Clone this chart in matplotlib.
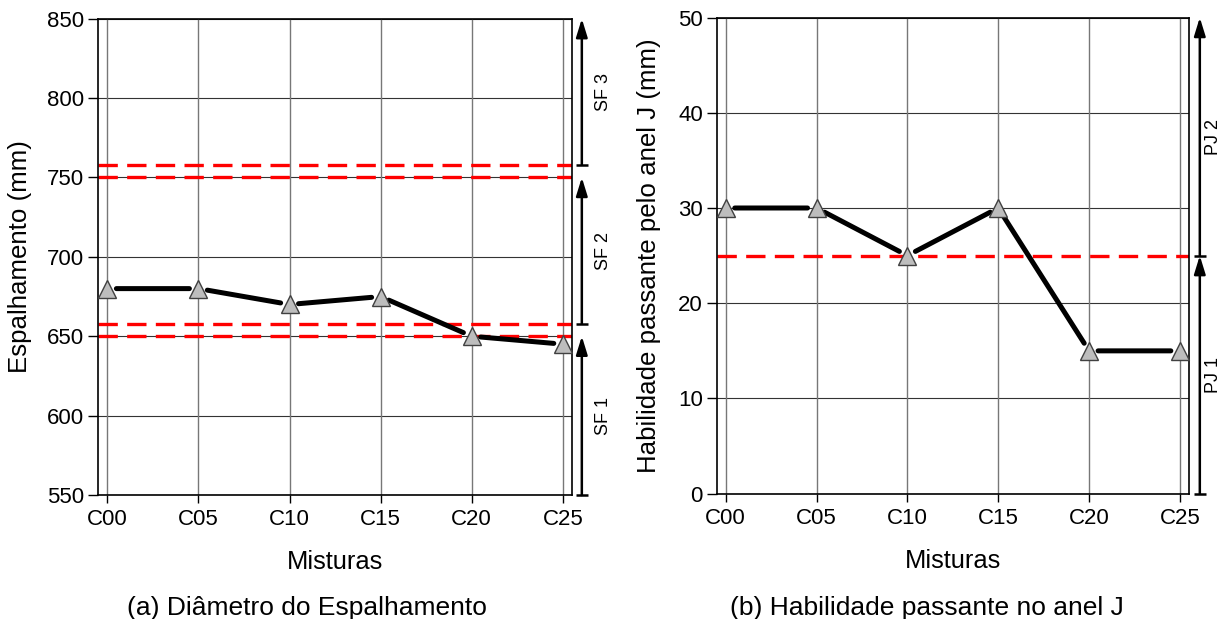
import matplotlib
matplotlib.use("Agg")
import matplotlib.pyplot as plt

plt.rcParams['font.family'] = ['Liberation Sans', 'DejaVu Sans']

categories = ["C00", "C05", "C10", "C15", "C20", "C25"]
espalhamento = [680, 680, 670, 675, 650, 645]
anel_j = [30, 30, 25, 30, 15, 15]

sf_limits = [650, 658, 750, 758]
sf_classes = [("SF 1", 550, 650), ("SF 2", 658, 750), ("SF 3", 758, 850)]
pj_limits = [25]
pj_classes = [("PJ 1", 0, 25), ("PJ 2", 25, 50)]

fig = plt.figure(figsize=(12.28, 6.19), dpi=100)
axA = fig.add_axes([0.0800, 0.2003, 0.3857, 0.7695])
axB = fig.add_axes([0.5836, 0.2024, 0.3846, 0.7693])


def draw(ax, values, limits, classes, ylim, yticks, ylabel, arrow_x, text_x, ylabel_x):
    x = list(range(len(categories)))
    ax.set_xlim(-0.1, 5.1)
    ax.set_ylim(*ylim)
    ax.set_yticks(yticks)
    ax.set_xticks(x)
    ax.set_xticklabels(categories)
    ax.tick_params(axis='both', direction='out', labelsize=16, width=1.0)
    ax.tick_params(axis='y', length=7, pad=3)
    ax.tick_params(axis='x', length=6, pad=4)
    for s in ax.spines.values():
        s.set_linewidth(1.2)
        s.set_color('black')
    for yv in yticks:
        ax.axhline(yv, color='#333333', lw=0.8, zorder=1)
    for xv in x:
        ax.axvline(xv, color='#777777', lw=1.0, zorder=1)
    for lim in limits:
        ax.axhline(lim, color='#ff0000', lw=2.4, ls=(0, (5.8, 2.8)), zorder=2)
    # data line with gaps around markers
    for i in range(len(x) - 1):
        ax.annotate('', xy=(x[i + 1], values[i + 1]), xytext=(x[i], values[i]),
                    arrowprops=dict(arrowstyle='-', lw=3.6, color='black',
                                    shrinkA=6.5, shrinkB=6.5), zorder=3)
    ax.plot(x, values, ls='none', marker='^', markersize=13.5, markerfacecolor='#bdbdbd',
            markeredgecolor='#404040', markeredgewidth=1.0, zorder=4, clip_on=False)
    trans = ax.get_yaxis_transform()
    for name, lo, hi in classes:
        ax.annotate('', xy=(arrow_x, hi), xytext=(arrow_x, lo), xycoords=trans, textcoords=trans,
                    arrowprops=dict(arrowstyle='-|>,head_length=0.55,head_width=0.17',
                                    mutation_scale=20, lw=1.8, color='black',
                                    shrinkA=0, shrinkB=0), annotation_clip=False)
        ax.plot([arrow_x], [lo], marker='_', markersize=9, markeredgewidth=1.8,
                color='black', transform=trans, clip_on=False)
        ax.text(text_x, (lo + hi) / 2, name, transform=trans, rotation=90,
                ha='center', va='center', fontsize=13)
    ax.set_ylabel(ylabel, fontsize=18.6)
    ax.yaxis.set_label_coords(ylabel_x, 0.5)
    ax.yaxis.label.set_va('center')
    ax.set_xlabel("Misturas", fontsize=18.4)
    ax.xaxis.set_label_coords(0.5, -0.141)
    ax.xaxis.label.set_va('center')


draw(axA, espalhamento, sf_limits, sf_classes, (550, 850), [550, 600, 650, 700, 750, 800, 850],
     "Espalhamento (mm)", 1.021, 1.0675, -0.165)
draw(axB, anel_j, pj_limits, pj_classes, (0, 50), [0, 10, 20, 30, 40, 50],
     "Habilidade passante pelo anel J (mm)", 1.023, 1.053, -0.143)

fig.text(0.25, 0.018, "(a) Diâmetro do Espalhamento", ha='center', va='center', fontsize=19)
fig.text(0.755, 0.018, "(b) Habilidade passante no anel J", ha='center', va='center', fontsize=19)

fig.savefig("out.png", dpi=100)
